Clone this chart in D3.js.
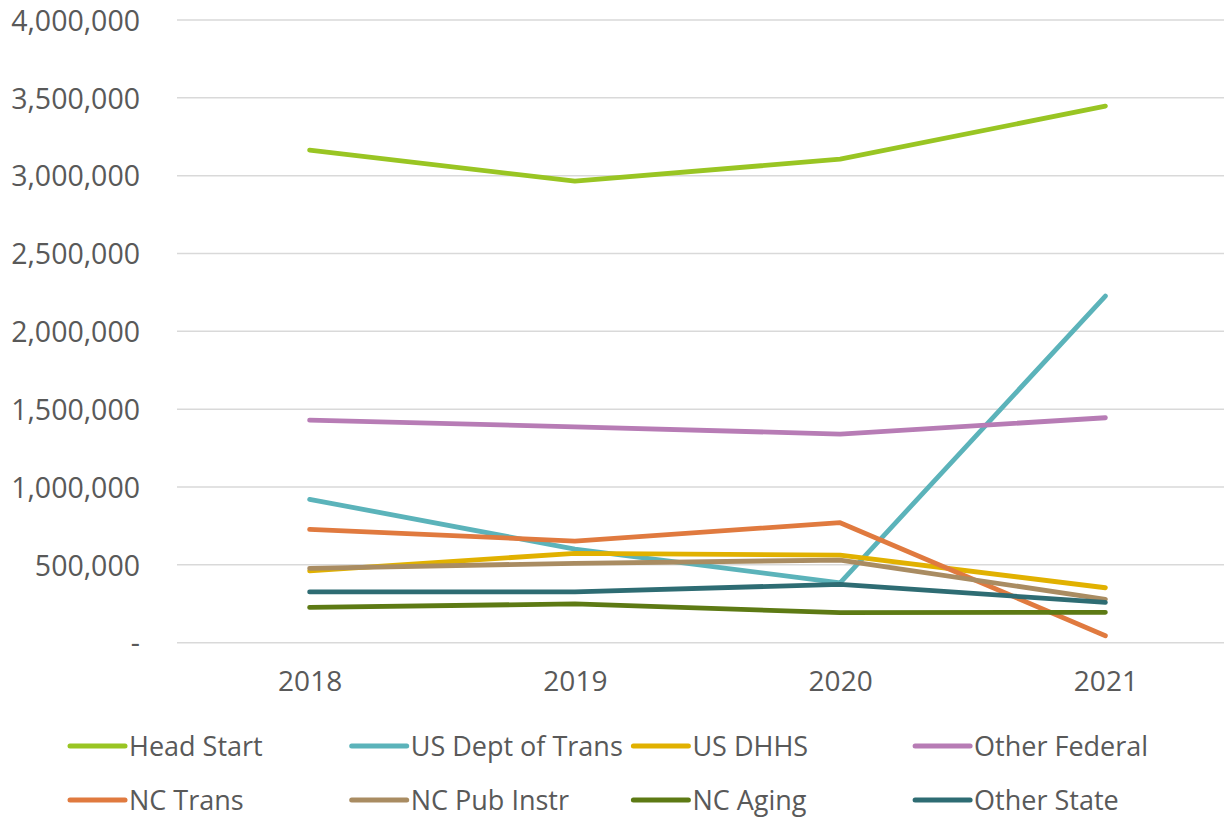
<!DOCTYPE html>
<html>
<head>
<meta charset="utf-8">
<script src="https://cdn.jsdelivr.net/npm/d3@7"></script>
<style>
  body { margin: 0; background: #fff; }
  text { font-family: "Open Sans", sans-serif; fill: #595959; }
</style>
</head>
<body>
<div id="chart"></div>
<script>
// data
var years = ["2018", "2019", "2020", "2021"];
var seriesNames = ["Head Start", "US Dept of Trans", "US DHHS", "Other Federal",
                   "NC Trans", "NC Pub Instr", "NC Aging", "Other State"];
var headStart     = [3164000, 2965000, 3106000, 3447000];
var usDeptTrans   = [921000, 601000, 385000, 2227000];
var usDHHS        = [462000, 574000, 563000, 353000];
var otherFederal  = [1430000, 1387000, 1340000, 1445000];
var ncTrans       = [728000, 653000, 771000, 45000];
var ncPubInstr    = [478000, 510000, 531000, 279000];
var ncAging       = [227000, 249000, 193000, 195000];
var otherState    = [326000, 326000, 375000, 259000];
var yTicks = [0, 500000, 1000000, 1500000, 2000000, 2500000, 3000000, 3500000, 4000000];

var colors = ["#99c523", "#5bb3ba", "#e1b100", "#b77cb5",
              "#e07a3f", "#a98c62", "#5d7a14", "#2e6c73"];
var allValues = [headStart, usDeptTrans, usDHHS, otherFederal,
                 ncTrans, ncPubInstr, ncAging, otherState];

var series = seriesNames.map(function(name, i) {
  return { name: name, color: colors[i], values: allValues[i] };
});

var svgWidth = 1224, svgHeight = 817;
var margin = { top: 20, left: 177 };
var chartWidth = 1061;
var chartHeight = 622.7;

var svg = d3.select("#chart").append("svg")
    .attr("width", svgWidth)
    .attr("height", svgHeight);

var chartGroup = svg.append("g")
    .attr("transform", `translate(${margin.left}, ${margin.top})`);

var xScale = d3.scalePoint()
    .domain(years)
    .range([0, chartWidth])
    .padding(0.5);

var yScale = d3.scaleLinear()
    .domain([0, 4000000])
    .range([chartHeight, 0]);

// gridlines
chartGroup.append("g").selectAll("line")
    .data(yTicks)
    .enter()
    .append("line")
    .attr("x1", 0)
    .attr("x2", chartWidth)
    .attr("y1", d => yScale(d))
    .attr("y2", d => yScale(d))
    .attr("stroke", "#d9d9d9")
    .attr("stroke-width", 1.5);

// y axis labels
var leftAxis = d3.axisLeft(yScale)
    .tickValues(yTicks)
    .tickSize(0)
    .tickPadding(37)
    .tickFormat(d => d === 0 ? "-  " : d3.format(",")(d));

chartGroup.append("g")
    .call(leftAxis)
    .call(g => g.select(".domain").remove())
    .selectAll("text")
    .attr("font-size", 28.5)
    .attr("dy", "0.36em")
    .style("font-family", "'Open Sans', sans-serif")
    .attr("fill", "#595959");

// x axis labels
var bottomAxis = d3.axisBottom(xScale).tickSize(0).tickPadding(28);
chartGroup.append("g")
    .attr("transform", `translate(0, ${chartHeight})`)
    .call(bottomAxis)
    .call(g => g.select(".domain").remove())
    .selectAll("text")
    .attr("font-size", 28)
    .style("font-family", "'Open Sans', sans-serif")
    .attr("fill", "#595959");

// lines
var line = d3.line()
    .x((d, i) => xScale(years[i]))
    .y(d => yScale(d));

chartGroup.append("g").selectAll("path")
    .data(series)
    .enter()
    .append("path")
    .attr("d", d => line(d.values))
    .attr("fill", "none")
    .attr("stroke", d => d.color)
    .attr("stroke-width", 4.8)
    .attr("stroke-linecap", "round")
    .attr("stroke-linejoin", "round");

// legend
var legend = svg.append("g").selectAll("g")
    .data(series)
    .enter()
    .append("g")
    .attr("transform", (d, i) => `translate(${70 + (i % 4) * 281.7}, ${i < 4 ? 746 : 800})`);

legend.append("line")
    .attr("x1", 0).attr("x2", 55)
    .attr("y1", 0).attr("y2", 0)
    .attr("stroke", d => d.color)
    .attr("stroke-width", 5)
    .attr("stroke-linecap", "round");

legend.append("text")
    .attr("x", 59)
    .attr("dy", "0.36em")
    .attr("font-size", 27)
    .text(d => d.name);
</script>
</body>
</html>
